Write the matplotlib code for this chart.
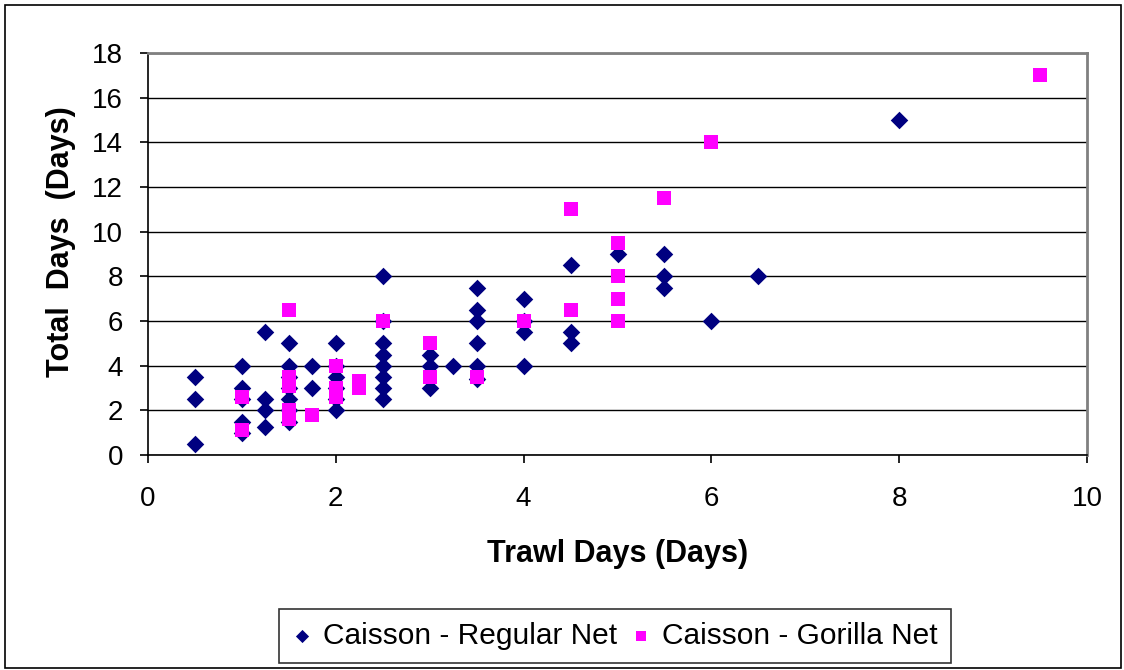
import matplotlib
matplotlib.use("Agg")
import matplotlib.pyplot as plt
from matplotlib.patches import Rectangle

plt.rcParams['font.family'] = ['Liberation Sans', 'DejaVu Sans']

# Caisson - Regular Net
reg_x = [0.5, 0.5, 0.5,
         1, 1, 1, 1, 1,
         1.25, 1.25, 1.25, 1.25,
         1.5, 1.5, 1.5, 1.5, 1.5, 1.5, 1.5,
         1.75, 1.75,
         2, 2, 2, 2, 2, 2,
         2.5, 2.5, 2.5, 2.5, 2.5, 2.5, 2.5, 2.5,
         3, 3, 3,
         3.25,
         3.5, 3.5, 3.5, 3.5, 3.5, 3.5,
         4, 4, 4, 4,
         4.5, 4.5, 4.5,
         5,
         5.5, 5.5, 5.5,
         6, 6.5, 8]
reg_y = [3.5, 2.5, 0.5,
         4, 3, 2.5, 1.5, 1,
         5.5, 2.5, 2, 1.25,
         5, 4, 3.5, 3, 2.5, 2, 1.5,
         4, 3,
         5, 4, 3.5, 3, 2.5, 2,
         8, 6, 5, 4.5, 4, 3.5, 3, 2.5,
         4.5, 4, 3,
         4,
         7.5, 6.5, 6, 5, 4, 3.4,
         7, 6, 5.5, 4,
         8.5, 5.5, 5,
         9,
         9, 8, 7.5,
         6, 8, 15]

# Caisson - Gorilla Net
gor_x = [1, 1,
         1.5, 1.5, 1.5, 1.5, 1.5,
         1.75,
         2, 2, 2,
         2.25, 2.25,
         2.5,
         3, 3,
         3.5,
         4,
         4.5, 4.5,
         5, 5, 5, 5,
         5.5, 6, 9.5]
gor_y = [2.6, 1.1,
         6.5, 3.5, 3.1, 2.0, 1.6,
         1.8,
         4, 3.0, 2.6,
         3.33, 3.0,
         6,
         5, 3.5,
         3.5,
         6,
         11, 6.5,
         9.5, 8, 7, 6,
         11.5, 14, 17]

x_ticks = [0, 2, 4, 6, 8, 10]
y_ticks = [0, 2, 4, 6, 8, 10, 12, 14, 16, 18]

W, H = 1124, 670
fig = plt.figure(figsize=(W / 100, H / 100), dpi=100)
fig.patch.set_facecolor('white')
fig.patches.append(Rectangle((5 / W, 2 / H), (W - 8) / W, (H - 7) / H,
                             transform=fig.transFigure, fill=False,
                             edgecolor='black', linewidth=1.2))

ax = fig.add_axes([148 / W, (H - 455) / H, (1087 - 148) / W, (455 - 53) / H])
ax.set_xlim(0, 10)
ax.set_ylim(0, 18)
ax.set_xticks(x_ticks)
ax.set_yticks(y_ticks)
ax.yaxis.grid(True, color='black', linewidth=1.0)
ax.set_axisbelow(True)

ax.scatter(reg_x, reg_y, marker='D', s=80, color='#000080', linewidths=0,
           zorder=3, label='Caisson - Regular Net')
ax.scatter(gor_x, gor_y, marker='s', s=95, color='#FF00FF', linewidths=0,
           zorder=4, label='Caisson - Gorilla Net')

for side in ['top', 'right']:
    ax.spines[side].set_color('#808080')
    ax.spines[side].set_linewidth(2)
for side in ['left', 'bottom']:
    ax.spines[side].set_color('black')
    ax.spines[side].set_linewidth(1.2)

ax.tick_params(axis='both', direction='out', length=6, width=1.2, labelsize=20)
ax.tick_params(axis='x', pad=16)
ax.tick_params(axis='y', pad=12)

ax.set_xlabel('Trawl Days (Days)', fontsize=22, fontweight='bold', labelpad=20)
ax.set_ylabel('Total  Days  (Days)', fontsize=22, fontweight='bold')
ax.yaxis.set_label_coords(-0.077, 0.532)

leg = fig.legend(loc='center', bbox_to_anchor=(615 / W, (H - 636) / H),
                 ncol=2, fontsize=21.5, frameon=True, fancybox=False,
                 edgecolor='black', handlelength=0.6, handletextpad=0.4,
                 columnspacing=0.5, borderpad=0.45, markerscale=0.75)
leg.get_frame().set_linewidth(1.2)

fig.savefig('out.png', dpi=100)
